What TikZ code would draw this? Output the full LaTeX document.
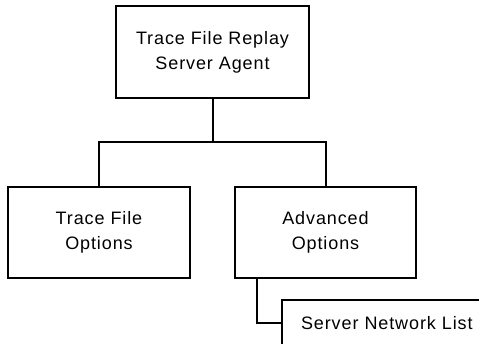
\documentclass[tikz,border=0pt]{standalone}
\usepackage{fontspec}
\setmainfont[LetterSpace=5]{Liberation Sans}
\begin{document}
\begin{tikzpicture}[x=1pt,y=-1pt,
  box/.style={draw=black,line width=2pt,fill=white,minimum width=#1,inner sep=0pt,align=center,font=\fontsize{18}{25}\selectfont},
  conn/.style={draw=black,line width=2pt}]
\useasboundingbox (0,0) rectangle (479,343);
\clip (0,0) rectangle (479,343);
\fill[white] (0,0) rectangle (479,343);
\node[box=193pt,minimum height=92pt] (top) at (212.5,52) {Trace File Replay\\Server Agent};
\node[box=182pt,minimum height=91pt] (left) at (99,232.5) {Trace File\\Options};
\node[box=181pt,minimum height=91pt] (right) at (325.5,232.5) {Advanced\\Options};
\node[box=220pt,minimum height=46pt,anchor=north west,text width=210pt,align=left] (snl) at (281,299) {\hspace*{14pt}Server Network List};
\coordinate (j) at (212.5,142);
\draw[conn] (top.south) -- (j);
\draw[conn] (left.north) |- (j) -| (right.north);
\draw[conn] ([xshift=23pt]right.south west) |- (snl.west);
\end{tikzpicture}
\end{document}
